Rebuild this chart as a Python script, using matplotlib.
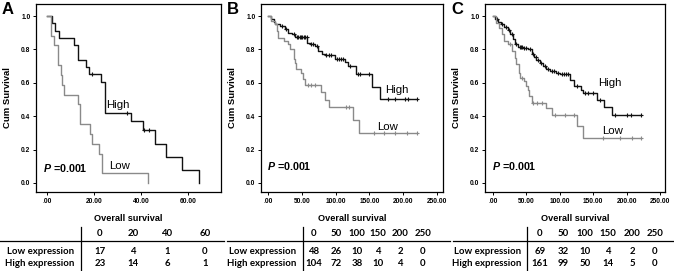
#!/usr/bin/env python3

import numpy as np
import matplotlib
matplotlib.use("Agg")
import matplotlib.pyplot as plt
from matplotlib.lines import Line2D

W, H = 674, 271

# ---- Kaplan-Meier curves (time, survival after step) ----
A_high_t = [0, 2, 3.3, 5, 11.5, 13, 16.5, 18, 23, 24.8, 35.7, 40.8, 45.8, 50.8, 57.2, 64.8]
A_high_s = [1.0, 0.957, 0.913, 0.870, 0.826, 0.739, 0.696, 0.652, 0.605, 0.419, 0.37, 0.315, 0.235, 0.155, 0.078, 0.0]
A_high_cens = [19.3, 33.9, 41.4, 43.3]
A_low_t = [0, 1.6, 3.0, 4.8, 5.8, 6.5, 7.2, 13.2, 14.0, 18.3, 19.2, 22.0, 23.3, 43.0]
A_low_s = [1.0, 0.882, 0.824, 0.706, 0.647, 0.588, 0.529, 0.471, 0.353, 0.294, 0.235, 0.176, 0.059, 0.0]
A_low_cens = []

B_high_t = [0, 5, 9, 11, 18, 25, 30, 35, 40, 58, 62, 69, 74, 80, 84, 99, 114, 119, 130, 154, 166]
B_high_s = [1.0, 0.985, 0.965, 0.95, 0.94, 0.92, 0.90, 0.89, 0.875, 0.84, 0.83, 0.82, 0.79, 0.775,
            0.765, 0.745, 0.725, 0.70, 0.65, 0.575, 0.505]
B_high_cens = [20, 27, 38, 43, 45, 47, 49, 51, 53, 55, 57, 64, 66, 72, 86, 90, 93, 102, 105, 108,
               111, 121, 133, 136, 150, 178, 188, 203, 207, 220]
B_low_t = [0, 5, 10, 13, 15, 23, 30, 33, 38, 40, 42, 49, 52, 55, 79, 84, 90, 125, 135]
B_low_s = [1.0, 0.97, 0.95, 0.91, 0.87, 0.85, 0.83, 0.80, 0.74, 0.72, 0.68, 0.66, 0.625, 0.585,
           0.545, 0.50, 0.455, 0.375, 0.30]
B_low_cens = [59, 64, 70, 116, 120, 157, 172, 188, 205, 220]

C_high_t = [0, 3, 8, 12, 17, 22, 26, 30, 33, 38, 45, 53, 58, 62, 65, 70, 75, 80, 85, 95, 100,
            115, 121, 131, 134, 155, 166, 178]
C_high_s = [1.0, 0.985, 0.965, 0.95, 0.935, 0.915, 0.89, 0.86, 0.835, 0.815, 0.81, 0.80, 0.77,
            0.755, 0.735, 0.72, 0.70, 0.685, 0.67, 0.66, 0.65, 0.615, 0.58, 0.555, 0.54, 0.50,
            0.455, 0.405]
C_high_cens = [6, 14, 19, 24, 28, 35, 40, 42, 44, 47, 50, 55, 60, 64, 68, 72, 78, 82, 88, 92, 97,
               103, 106, 109, 112, 125, 137, 142, 150, 160, 182, 200, 206, 222]
C_low_t = [0, 5, 9, 13, 16, 23, 28, 33, 35, 39, 41, 46, 49, 52, 54, 58, 79, 88, 126, 135]
C_low_s = [1.0, 0.96, 0.93, 0.89, 0.85, 0.83, 0.79, 0.75, 0.71, 0.66, 0.63, 0.61, 0.58, 0.555,
           0.52, 0.48, 0.45, 0.41, 0.34, 0.27]
C_low_cens = [25, 44, 60, 66, 73, 93, 108, 121, 164, 190, 208, 222]

# ---- axis ticks ----
A_xticks = [0, 20, 40, 60]
A_xticklabels = [".00", "20.00", "40.00", "60.00"]
BC_xticks = [0, 50, 100, 150, 200, 250]
BC_xticklabels = [".00", "50.00", "100.00", "150.00", "200.00", "250.00"]
yticks = [0.0, 0.2, 0.4, 0.6, 0.8, 1.0]
yticklabels = ["0.0", "0.2", "0.4", "0.6", "0.8", "1.0"]

# ---- numbers at risk ----
A_risk_times = ["0", "20", "40", "60"]
A_risk_low = ["17", "4", "1", "0"]
A_risk_high = ["23", "14", "6", "1"]
B_risk_times = ["0", "50", "100", "150", "200", "250"]
B_risk_low = ["48", "26", "10", "4", "2", "0"]
B_risk_high = ["104", "72", "38", "10", "4", "0"]
C_risk_times = ["0", "50", "100", "150", "200", "250"]
C_risk_low = ["69", "32", "10", "4", "2", "0"]
C_risk_high = ["161", "99", "50", "14", "5", "0"]

HIGH_COLOR = "#111111"
LOW_COLOR = "#8a8a8a"


def fx(x):
    return x / W


def fy(y):
    return 1 - y / H


def step_value(t, s, x):
    idx = np.searchsorted(np.asarray(t), x, side="right") - 1
    return np.asarray(s)[idx]


def draw_curve(ax, t, s, cens, color):
    tt = list(t)
    ss = list(s)
    if cens and max(cens) > tt[-1]:
        tt.append(max(cens))
        ss.append(ss[-1])
    ax.step(tt, ss, where="post", color=color, lw=1.0)
    if cens:
        cy = step_value(t, s, cens)
        ax.plot(cens, cy, ls="none", marker="+", ms=3.5, mew=0.8, color=color)


def draw_panel(fig, letter, box, xlim, xticks, xticklabels, high, low, high_lbl, low_lbl, p_pos):
    left, right = box
    width = right - left
    ax = fig.add_axes([fx(left), fy(192), fx(width), (192 - 4) / H])
    draw_curve(ax, *high, HIGH_COLOR)
    draw_curve(ax, *low, LOW_COLOR)
    ax.set_xlim(*xlim)
    ax.set_ylim(-0.054, 1.072)
    ax.set_xticks(xticks)
    ax.set_xticklabels(xticklabels, fontsize=4.8, fontweight="bold", family="Liberation Sans")
    ax.set_yticks(yticks)
    ax.set_yticklabels(yticklabels, fontsize=4.8, fontweight="bold", family="Liberation Sans")
    ax.tick_params(direction="out", length=2.5, width=0.7, pad=1.5)
    for sp in ax.spines.values():
        sp.set_linewidth(0.9)
    ax.set_ylabel("Cum Survival", fontsize=6.8, fontweight="bold", family="Liberation Sans")
    ax.yaxis.set_label_coords(-24 / width, 0.5)
    ax.set_xlabel("Overall survival", fontsize=6.6, fontweight="bold", family="Liberation Sans")
    ax.xaxis.set_label_coords(0.5, -(214 - 192) / 188)
    ax.text(*high_lbl, "High", fontsize=8.2, family="Liberation Sans", va="center")
    ax.text(*low_lbl, "Low", fontsize=8.2, family="Liberation Sans", va="center")
    ax.text(*p_pos, r"$\bfit{P}$ =0.001", fontsize=7.7, fontweight="bold",
            family="Liberation Sans", va="center")
    fig.text(fx(left - 34), fy(10), letter, fontsize=12, fontweight="bold",
             family="Liberation Sans", va="center", ha="left")
    return ax


def draw_table(fig, x0, x1, label_right, vline, col_x, times, low, high):
    kw = dict(fontsize=6.9, fontweight="bold", family="Lato", va="center")
    fig.add_artist(Line2D([fx(x0), fx(x1)], [fy(241), fy(241)], color="black", lw=0.9,
                          transform=fig.transFigure))
    fig.add_artist(Line2D([fx(vline), fx(vline)], [fy(227), fy(270)], color="black", lw=0.9,
                          transform=fig.transFigure))
    fig.text(fx(label_right), fy(252), "Low expression", ha="right", **kw)
    fig.text(fx(label_right), fy(263), "High expression", ha="right", **kw)
    for x, tm, lo, hi in zip(col_x, times, low, high):
        fig.text(fx(x), fy(233), tm, ha="center", **kw)
        fig.text(fx(x), fy(252), lo, ha="center", **kw)
        fig.text(fx(x), fy(263), hi, ha="center", **kw)


def main():
    plt.rcParams["mathtext.fontset"] = "custom"
    plt.rcParams["mathtext.bfit"] = "Liberation Sans:italic:bold"
    fig = plt.figure(figsize=(W / 100, H / 100), dpi=100)

    draw_panel(fig, "A", (36, 221), (-4.7, 74), A_xticks, A_xticklabels,
               (A_high_t, A_high_s, A_high_cens), (A_low_t, A_low_s, A_low_cens),
               (25.0, 0.47), (26.5, 0.10), (-1.7, 0.09))
    draw_panel(fig, "B", (261, 443), (-10.4, 258.9), BC_xticks, BC_xticklabels,
               (B_high_t, B_high_s, B_high_cens), (B_low_t, B_low_s, B_low_cens),
               (174, 0.555), (161, 0.335), (-2, 0.10))
    draw_panel(fig, "C", (485, 665), (-12, 257.5), BC_xticks, BC_xticklabels,
               (C_high_t, C_high_s, C_high_cens), (C_low_t, C_low_s, C_low_cens),
               (157, 0.60), (163, 0.31), (-2, 0.10))

    draw_table(fig, 0, 224, 74, 81, [100, 133, 167, 205], A_risk_times, A_risk_low, A_risk_high)
    draw_table(fig, 227, 450, 296, 303, [314, 336, 357, 378, 400, 423],
               B_risk_times, B_risk_low, B_risk_high)
    draw_table(fig, 453, 674, 521, 527, [540, 563, 585, 608, 632, 655],
               C_risk_times, C_risk_low, C_risk_high)

    fig.savefig("out.png", dpi=100)
    plt.close(fig)


if __name__ == "__main__":
    main()
